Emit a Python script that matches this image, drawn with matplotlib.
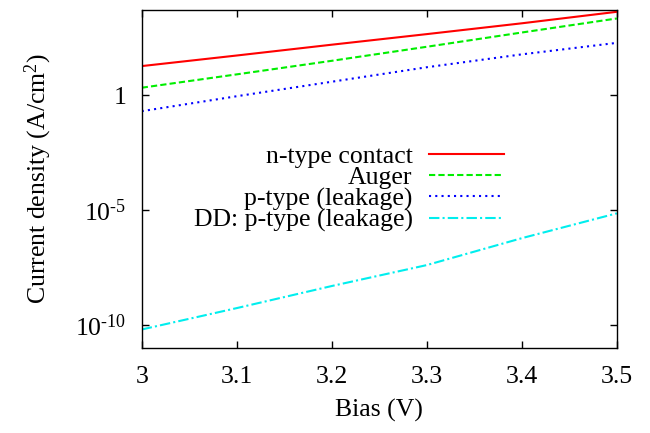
import numpy as np
import matplotlib
matplotlib.use('Agg')
import matplotlib.pyplot as plt
from matplotlib.ticker import FixedLocator, FixedFormatter

# data (log10 of current density)
bias = [3.0, 3.1, 3.2, 3.3, 3.4, 3.5]
log_ntype = [1.26, 1.72, 2.19, 2.65, 3.12, 3.62]
log_auger = [0.32, 0.90, 1.49, 2.10, 2.72, 3.33]
log_ptype = [-0.70, -0.05, 0.58, 1.21, 1.77, 2.27]
log_dd_ptype = [-10.19, -9.26, -8.30, -7.39, -6.22, -5.14]

labels = ['n-type contact', 'Auger', 'p-type (leakage)', 'DD: p-type (leakage)']
ytick_vals = [1e-10, 1e-5, 1]
ytick_labels = [r'$10^{\text{-}10}$', r'$10^{\text{-}5}$', '1']
xtick_vals = [3.0, 3.1, 3.2, 3.3, 3.4, 3.5]
xtick_labels = ['3', '3.1', '3.2', '3.3', '3.4', '3.5']

plt.rcParams['font.family'] = ['Liberation Serif', 'DejaVu Serif']
plt.rcParams['mathtext.fontset'] = 'custom'
plt.rcParams['mathtext.rm'] = 'Liberation Serif'
plt.rcParams['mathtext.it'] = 'Liberation Serif:italic'

FS = 18.5

fig = plt.figure(figsize=(6.5, 4.33), dpi=100)
ax = fig.add_axes([0.218, 0.196, 0.731, 0.781])

series = [log_ntype, log_auger, log_ptype, log_dd_ptype]
colors = ['#ff0000', '#00ee00', '#0000ff', '#00eeee']
dashes = [(None, None), (3, 1.5), (1, 2), (5, 1.5, 1, 1.5)]
for vals, c, d, lab in zip(series, colors, dashes, labels):
    y = 10.0 ** np.array(vals)
    if d[0] is None:
        ax.plot(bias, y, color=c, lw=1.5, label=lab)
    else:
        ax.plot(bias, y, color=c, lw=1.5, dashes=d, label=lab)

ax.set_yscale('log')
ax.set_xlim(3.0, 3.5)
ax.set_ylim(1e-11, 10 ** 3.7)

ax.yaxis.set_major_locator(FixedLocator(ytick_vals))
ax.yaxis.set_major_formatter(FixedFormatter(ytick_labels))
ax.yaxis.set_minor_locator(FixedLocator([]))
ax.xaxis.set_major_locator(FixedLocator(xtick_vals))
ax.xaxis.set_major_formatter(FixedFormatter(xtick_labels))

ax.tick_params(direction='in', length=5, width=1, top=True, right=True,
               labelsize=FS)
ax.tick_params(axis='x', pad=13)
ax.tick_params(axis='y', pad=11)
for s in ax.spines.values():
    s.set_linewidth(1)

ax.set_xlabel('Bias (V)', fontsize=FS, labelpad=8)
ax.set_ylabel(r'Current density (A/cm$^2$)', fontsize=FS, labelpad=15)

leg = ax.legend(loc='upper right', bbox_to_anchor=(0.775, 0.665),
                bbox_transform=fig.transFigure, frameon=False, markerfirst=False,
                fontsize=FS, handlelength=2.9, handletextpad=0.65,
                labelspacing=-0.07, borderpad=0, borderaxespad=0)
for t in leg.get_texts():
    t.set_ha('right')

fig.savefig('out.png', dpi=100)
